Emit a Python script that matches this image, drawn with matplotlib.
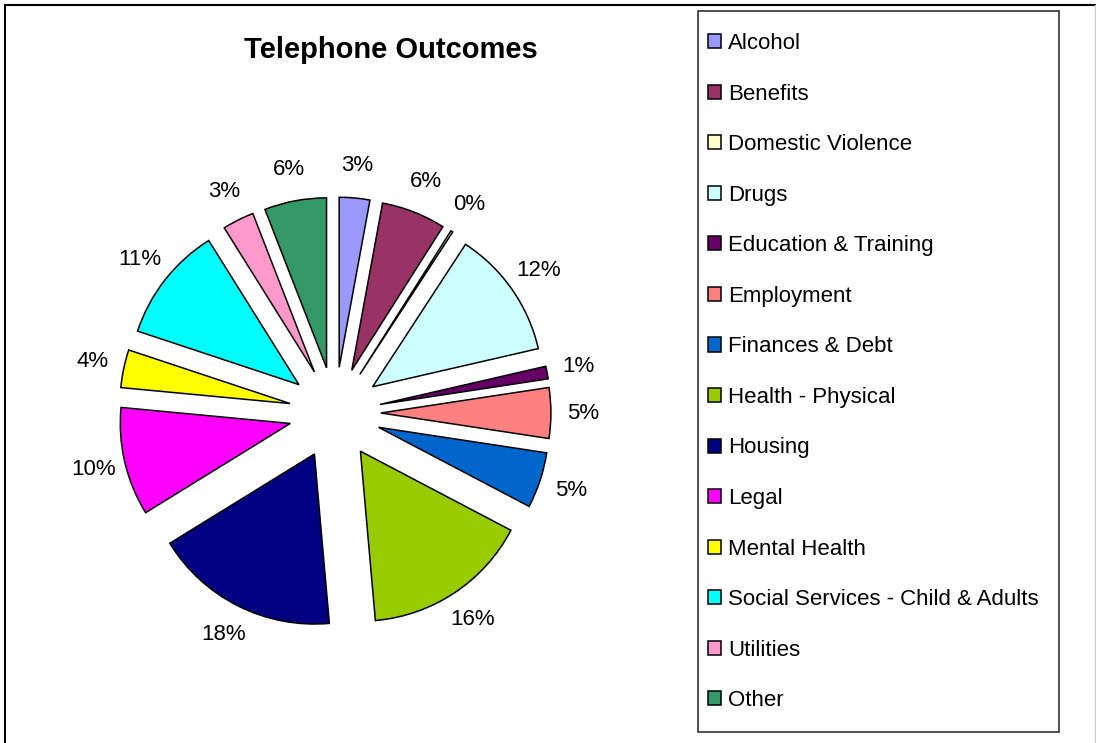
import matplotlib.pyplot as plt
from matplotlib.patches import Rectangle
from matplotlib.lines import Line2D

plt.rcParams["font.family"] = ["Liberation Sans", "DejaVu Sans"]

# =========================
# DATA
# =========================
categories = [
    "Alcohol", "Benefits", "Domestic Violence", "Drugs",
    "Education & Training", "Employment", "Finances & Debt",
    "Health - Physical", "Housing", "Legal", "Mental Health",
    "Social Services - Child & Adults", "Utilities", "Other",
]
shares = [2.9, 6.1, 0.2, 12.2, 1.2, 4.8, 5.3, 15.9, 17.6, 10.3, 3.6, 11.0, 3.0, 5.9]
colors = [
    "#9999FF", "#993366", "#FFFFCC", "#CCFFFF", "#660066", "#FF8080",
    "#0066CC", "#99CC00", "#000080", "#FF00FF", "#FFFF00", "#00FFFF",
    "#FF99CC", "#339966",
]

W, H = 1096, 743
fig = plt.figure(figsize=(W / 100, H / 100), dpi=100)

# pie centre ~ (335, 413) px, radius ~ 170 px
R = 170.0
cx, cy = 335.0, H - 413.0
ax = fig.add_axes([0, 0, 680 / W, 1])

wedges, texts, autotexts = ax.pie(
    shares,
    colors=colors,
    explode=[0.27] * len(shares),
    startangle=90,
    counterclock=False,
    autopct="%.0f%%",
    pctdistance=1.19,
    wedgeprops=dict(edgecolor="black", linewidth=1.1),
    textprops=dict(fontsize=16, color="black"),
)
ax.set_xlim(-cx / R, (680 - cx) / R)
ax.set_ylim(-cy / R, (H - cy) / R)

fig.text(391 / W, 1 - 50 / H, "Telephone Outcomes", ha="center", va="center",
         fontsize=21, fontweight="bold")

# =========================
# LEGEND
# =========================
fig.patches.append(Rectangle((698 / W, 1 - 732 / H), 361 / W, 721 / H,
                             transform=fig.transFigure, facecolor="white",
                             edgecolor="#333333", linewidth=1.2, zorder=0))
leg = fig.legend(
    wedges, categories,
    loc="upper left",
    bbox_to_anchor=(708 / W, 1 - 33 / H),
    frameon=False,
    fontsize=16,
    handlelength=0.6, handleheight=0.6, handletextpad=0.3,
    labelspacing=1.33, borderpad=0, borderaxespad=0,
)

# outer chart border
fig.add_artist(Line2D([5 / W, 1], [1 - 5 / H, 1 - 5 / H], color="black", linewidth=1.5))
fig.add_artist(Line2D([5 / W, 5 / W], [0, 1 - 5 / H], color="black", linewidth=1.5))
fig.add_artist(Line2D([1095 / W, 1095 / W], [0, 1 - 5 / H], color="#cccccc", linewidth=1))

fig.savefig("out.png", dpi=100)
plt.close(fig)
